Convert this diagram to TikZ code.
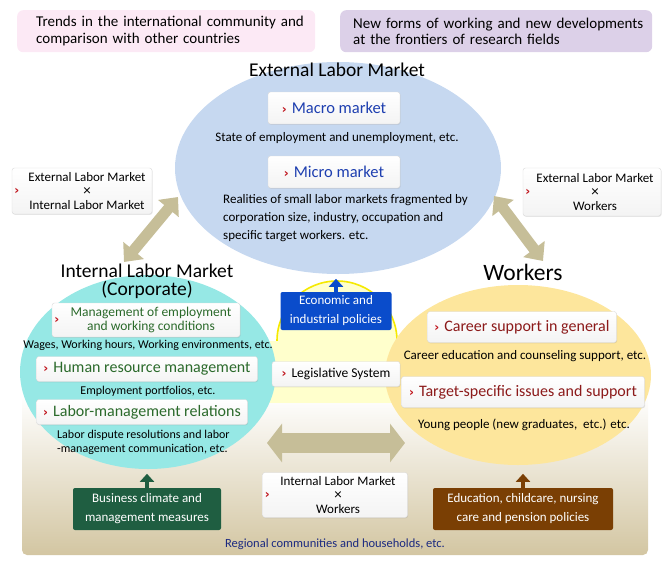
\documentclass[tikz,border=0pt]{standalone}
\usepackage{fontspec}
\setmainfont{Carlito}
\newfontfamily\chevfont{DejaVu Sans}
\usetikzlibrary{arrows.meta,positioning,shapes.geometric,shadows}

\definecolor{pinkbg}{HTML}{FCE9F5}
\definecolor{purplebg}{HTML}{DCD0E8}
\definecolor{extblue}{HTML}{C6D8F0}
\definecolor{intcyan}{HTML}{96E8E5}
\definecolor{wkyellow}{HTML}{FDE69C}
\definecolor{paleyel}{HTML}{FFFFCC}
\definecolor{lineyel}{HTML}{F5E900}
\definecolor{tanarrow}{HTML}{C6BE98}
\definecolor{bgtan}{HTML}{D3C6A2}
\definecolor{macroblue}{HTML}{1E3FB0}
\definecolor{mgmtgreen}{HTML}{2B6A2B}
\definecolor{careerred}{HTML}{8C1A1A}
\definecolor{chevred}{HTML}{C0141C}
\definecolor{econblue}{HTML}{0A4CCB}
\definecolor{bizgreen}{HTML}{1F5E41}
\definecolor{edubrown}{HTML}{7A3F04}
\definecolor{navy}{HTML}{1C2A80}

\newcommand{\chevmark}{\textcolor{chevred}{\chevfont\bfseries\fontsize{12}{12}\selectfont ›}}
\newcommand{\chev}{\chevmark\hspace{5pt}}
\newcommand{\crossx}{{\fontsize{15}{13}\selectfont ×}}

\tikzset{
  topbox/.style={rounded corners=6pt, align=left, inner ysep=0pt, inner xsep=4pt, minimum height=42pt, font=\fontsize{15}{16.5}\selectfont},
  minibox/.style={draw=gray!30, rounded corners=2.5pt, top color=white, bottom color=gray!9, align=center, inner sep=2pt,
    drop shadow={shadow xshift=0.6pt, shadow yshift=-0.8pt, opacity=0.2}},
  crossbox/.style={minibox, font=\fontsize{13}{14}\selectfont,
    label={[xshift=11pt]west:\chevmark}},
  policy/.style={rounded corners=2pt, text=white, align=center, font=\fontsize{13}{19}\selectfont},
  blurb/.style={font=\fontsize{13}{14}\selectfont, align=center, inner sep=0pt},
  title/.style={font=\fontsize{19.5}{18}\selectfont, align=center, inner sep=0pt},
  bigarrow/.style={draw=tanarrow, line width=11pt, {Triangle[length=15pt,width=26pt]}-{Triangle[length=15pt,width=26pt]}},
  uparrow/.style={line width=4pt, -{Triangle[length=8pt,width=14pt]}, shorten <=-0.5pt}
}

\begin{document}
\begin{tikzpicture}[x=1pt, y=-1pt]
\useasboundingbox (0,0) rectangle (670,571);

% ground of the lower half
\shade[rounded corners=5pt, top color=white, bottom color=bgtan] (22,395) rectangle (648,555);

% pale field between the three circles
\draw[fill=paleyel, draw=lineyel, line width=1.6pt] (337,341) ellipse [x radius=60, y radius=60];
\fill[paleyel] (262,341) rectangle (412,403);

% the three circles
\node[ellipse, fill=extblue, minimum width=326pt, minimum height=212pt, inner sep=0pt] (extm) at (338,168) {};
\node[ellipse, fill=intcyan, minimum width=256pt, minimum height=194pt, inner sep=0pt] (intm) at (148,372) {};
\node[ellipse, fill=wkyellow, minimum width=266pt, minimum height=180pt, inner sep=0pt] (wk) at (518,375) {};

% top boxes
\node[topbox, fill=pinkbg, text width=290pt, anchor=north west] (trends) at (17,10)
  {\hspace*{15pt}Trends in the international community and\\\hspace*{15pt}comparison with other countries};
\node[topbox, fill=purplebg, text width=304pt, anchor=north west] (frontier) at (340,10)
  {\hspace*{9pt}New forms of working and new developments\\\hspace*{9pt}at the frontiers of research fields};

% external labor market
\node[title] (exttitle) at (337,70) {External Labor Market};
\node[minibox, minimum width=132pt, minimum height=32pt, font=\fontsize{16.5}{18}\selectfont, text=macroblue] (macro) at (334,108) {\chev Macro market};
\node[blurb] (macrotxt) at (337,138) {State of employment and unemployment, etc.};
\node[minibox, minimum width=132pt, minimum height=32pt, font=\fontsize{16.5}{18}\selectfont, text=macroblue] (micro) at (334,172) {\chev Micro market};
\node[blurb, align=left, anchor=north west, font=\fontsize{13}{18}\selectfont] (microtxt) at (223,194)
  {Realities of small labor markets fragmented by\\corporation size, industry, occupation and\\specific target workers. etc.};

% internal labor market
\node[title] (inttitle) at (147,281) {Internal Labor Market\\(Corporate)};
\node[minibox, minimum width=188pt, minimum height=34pt, text=mgmtgreen, font=\fontsize{13.5}{14}\selectfont,
  label={[xshift=11pt]west:\chevmark}] (mgmt) at (146,320)
  {\hspace{10pt}Management of employment\\\hspace{10pt}and working conditions};
\node[blurb, font=\fontsize{12}{14}\selectfont] (wages) at (148,345) {Wages, Working hours, Working environments, etc.};
\node[minibox, minimum width=221pt, minimum height=25pt, text=mgmtgreen, font=\fontsize{16}{18}\selectfont] (hrm) at (147,369) {\chev Human resource management};
\node[blurb, font=\fontsize{12}{14}\selectfont] (portf) at (148,391) {Employment portfolios, etc.};
\node[minibox, minimum width=211pt, minimum height=25pt, text=mgmtgreen, font=\fontsize{16}{18}\selectfont] (lmr) at (142,412) {\chev Labor-management relations};
\node[blurb, font=\fontsize{12}{14}\selectfont, align=left, anchor=north west] (dispute) at (57,430) {Labor dispute resolutions and labor\\-management communication, etc.};

% workers
\node[title, font=\fontsize{23.5}{22}\selectfont] (wktitle) at (523,272) {Workers};
\node[minibox, minimum width=189pt, minimum height=31pt, text=careerred, font=\fontsize{16}{18}\selectfont] (career) at (522,327) {\chev Career support in general};
\node[blurb] (careertxt) at (525,356) {Career education and counseling support, etc.};
\node[minibox, minimum width=243pt, minimum height=31pt, text=careerred, font=\fontsize{16}{18}\selectfont] (target) at (523,392) {\chev Target-specific issues and support};
\node[blurb] (young) at (524,425) {Young people (new graduates,\ \ etc.) etc.};

% cross boxes
\node[crossbox, minimum width=140pt, minimum height=46pt] (exint) at (82,191) {\hspace{10pt}External Labor Market\\\hspace{10pt}\crossx\\\hspace{10pt}Internal Labor Market};
\node[crossbox, minimum width=138pt, minimum height=48pt] (exwk) at (592,192) {\hspace{6pt}External Labor Market\\\hspace{6pt}\crossx\\\hspace{6pt}Workers};
\node[crossbox, minimum width=145pt, minimum height=45pt] (intwk) at (335,495) {\hspace{6pt}Internal Labor Market\\\hspace{6pt}\crossx\\\hspace{6pt}Workers};

% policies
\node[policy, fill=econblue, minimum width=111pt, minimum height=38pt] (econ) at (336,311) {Economic and\\industrial policies};
\node[minibox, minimum width=128pt, minimum height=25pt, font=\fontsize{13.5}{14}\selectfont] (legis) at (336,374) {\chev Legislative System};
\node[policy, fill=bizgreen, minimum width=148pt, minimum height=42pt] (biz) at (147,509) {Business climate and\\management measures};
\node[policy, fill=edubrown, minimum width=180pt, minimum height=42pt] (edu) at (523,509) {Education, childcare, nursing\\care and pension policies};
\node[blurb, text=navy, font=\fontsize{12.5}{14}\selectfont] (regional) at (335,544) {Regional communities and households, etc.};

% arrows
\coordinate (ei1) at (178,197);
\coordinate (ei2) at (124,262);
\coordinate (ew1) at (494,196);
\coordinate (ew2) at (543,261);
\coordinate (iw1) at (267,443);
\coordinate (iw2) at (405,443);
\draw[bigarrow] (ei1) -- (ei2);
\draw[bigarrow] (ew1) -- (ew2);
\draw[bigarrow, line width=20pt, {Triangle[length=15pt,width=38pt]}-{Triangle[length=15pt,width=38pt]}] (iw1) -- (iw2);
\draw[uparrow, econblue] (econ.north) -- ++(0,-13);
\draw[uparrow, bizgreen] (biz.north) -- ++(0,-14);
\draw[uparrow, edubrown] (edu.north) -- ++(0,-14);
\end{tikzpicture}
\end{document}
